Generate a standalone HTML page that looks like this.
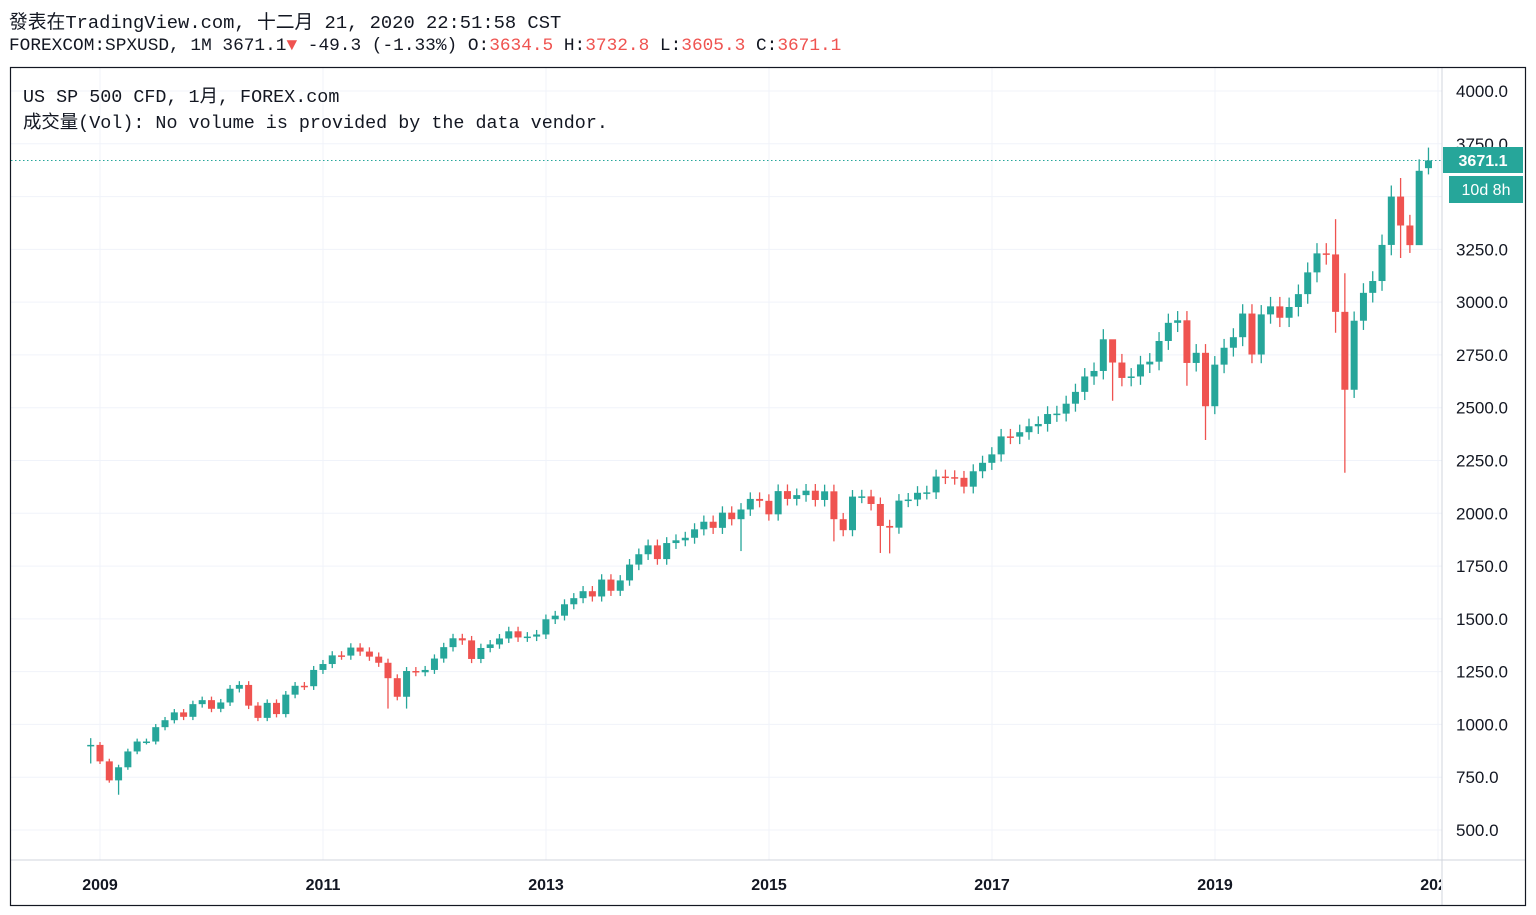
<!DOCTYPE html>
<html><head><meta charset="utf-8"><style>
body{margin:0;width:1536px;height:915px;background:#fff;overflow:hidden;font-family:"Liberation Mono","Noto Sans CJK SC",monospace;}
.hdr{position:absolute;left:9px;font-size:17.8px;color:#131722;white-space:pre;}
.r{color:#ef5350}
</style></head><body>
<div class="hdr" style="top:7px;font-size:18.8px">發表在TradingView.com, 十二月 21, 2020 22:51:58 CST</div>
<div class="hdr" style="top:36px">FOREXCOM:SPXUSD, 1M 3671.1<span class="r">▼</span> -49.3 (-1.33%) O:<span class="r">3634.5</span> H:<span class="r">3732.8</span> L:<span class="r">3605.3</span> C:<span class="r">3671.1</span></div>
<svg id="c" width="1536" height="915" style="position:absolute;left:0;top:0" xmlns="http://www.w3.org/2000/svg"></svg>
<script>
var s=document.getElementById('c'),h='';
function Y(p){return 91+(4000-p)*0.21114;}
function X(i){return 100+(i-1)*9.29;}
for(var p=500;p<=4000;p+=250){var y=Y(p);h+='<line x1="11" x2="1442" y1="'+y+'" y2="'+y+'" stroke="#f0f3fa"/>';}
var yrs=['2009','2011','2013','2015','2017','2019','2021'];
for(var k=0;k<7;k++){var x=100+k*223;h+='<line x1="'+x+'" x2="'+x+'" y1="68" y2="860" stroke="#f0f3fa"/>';}
var C=[903,825,735,797,872,919,919,987,1020,1057,1036,1096,1115,1074,1104,1169,1187,1089,1031,1102,1049,1141,1183,1181,1258,1286,1327,1326,1364,1345,1321,1292,1219,1131,1253,1247,1258,1312,1366,1408,1398,1310,1362,1379,1407,1441,1412,1416,1426,1498,1515,1569,1598,1631,1606,1686,1633,1682,1757,1806,1848,1783,1859,1872,1884,1924,1960,1931,2003,1972,2018,2068,2059,1995,2105,2068,2086,2107,2063,2104,1972,1920,2079,2080,2044,1940,1932,2060,2065,2097,2099,2174,2171,2168,2126,2199,2239,2279,2364,2363,2384,2412,2423,2470,2472,2519,2575,2648,2674,2824,2714,2641,2648,2705,2718,2816,2902,2914,2712,2760,2507,2704,2784,2834,2946,2752,2942,2980,2926,2977,3038,3141,3231,3226,2954,2585,2912,3044,3100,3271,3500,3363,3270,3622,3671];
var ov={3:{l:667},32:{l:1075},34:{l:1075},70:{l:1821},80:{l:1867},85:{l:1812},86:{l:1810},109:{h:2872},110:{h:2789,l:2533},118:{l:2604},120:{l:2347},134:{h:3393,l:2855},135:{h:3137,l:2192},141:{h:3588,l:3209},142:{l:3233},143:{l:3280},144:{h:3732,l:3605}};
for(var i=0;i<C.length;i++){var o=i==0?896:(i==144?3634.5:C[i-1]),c=C[i];var hi=Math.max(o,c)*1.015,lo=Math.min(o,c)*0.985;if(i==0){hi=935;lo=815;}
var v=ov[i];if(v){if(v.h)hi=v.h;if(v.l)lo=v.l;}
var col=c>=o?'#26a69a':'#ef5350';var x=X(i);
h+='<line x1="'+x+'" x2="'+x+'" y1="'+Y(hi)+'" y2="'+Y(lo)+'" stroke="'+col+'" stroke-width="1.3"/>';
var t=Y(Math.max(o,c)),b=Y(Math.min(o,c));if(b-t<1.5)b=t+1.5;
h+='<rect x="'+(x-3.5)+'" y="'+t+'" width="7" height="'+(b-t)+'" fill="'+col+'"/>';}
h+='<line x1="1442" x2="1442" y1="68" y2="906" stroke="#d1d4dc"/>';
h+='<line x1="11" x2="1525" y1="860" y2="860" stroke="#d1d4dc"/>';
for(var p=500;p<=4000;p+=250){var y=Y(p);h+='<text x="1456" y="'+(y+6)+'" font-family="Liberation Sans" font-size="17" fill="#131722">'+p.toFixed(1)+'</text>';}
h+='<defs><clipPath id="cl"><rect x="11" y="861" width="1430" height="44"/></clipPath></defs><g clip-path="url(#cl)">';
for(var k=0;k<7;k++){h+='<text x="'+(100+k*223)+'" y="890" text-anchor="middle" font-family="Liberation Sans" font-weight="bold" font-size="16" fill="#131722">'+yrs[k]+'</text>';}
h+='</g>';
h+='<rect x="1443" y="160" width="82" height="46" fill="#fff"/>';
var yc=Y(3671.1);
h+='<line x1="11" x2="1442" y1="'+yc+'" y2="'+yc+'" stroke="#26a69a" stroke-dasharray="1.5,2.5"/>';
h+='<rect x="1443" y="147" width="80" height="26" fill="#26a69a"/><text x="1483" y="166" text-anchor="middle" font-family="Liberation Sans" font-weight="bold" font-size="16" fill="#fff">3671.1</text>';
h+='<rect x="1449" y="176" width="74" height="27" fill="#26a69a"/><text x="1486" y="195" text-anchor="middle" font-family="Liberation Sans" font-size="16" fill="#fff">10d 8h</text>';
h+='<rect x="10.5" y="67.5" width="1515" height="838" fill="none" stroke="#131722" stroke-width="1.2"/>';
h+='<text x="23" y="102" font-family="Liberation Mono,Noto Sans CJK SC,monospace" font-size="18.4" fill="#131722">US SP 500 CFD, 1月, FOREX.com</text>';
h+='<text x="23" y="128" font-family="Liberation Mono,Noto Sans CJK SC,monospace" font-size="18.4" fill="#131722">成交量(Vol): No volume is provided by the data vendor.</text>';
s.innerHTML=h;
</script>
</body></html>
